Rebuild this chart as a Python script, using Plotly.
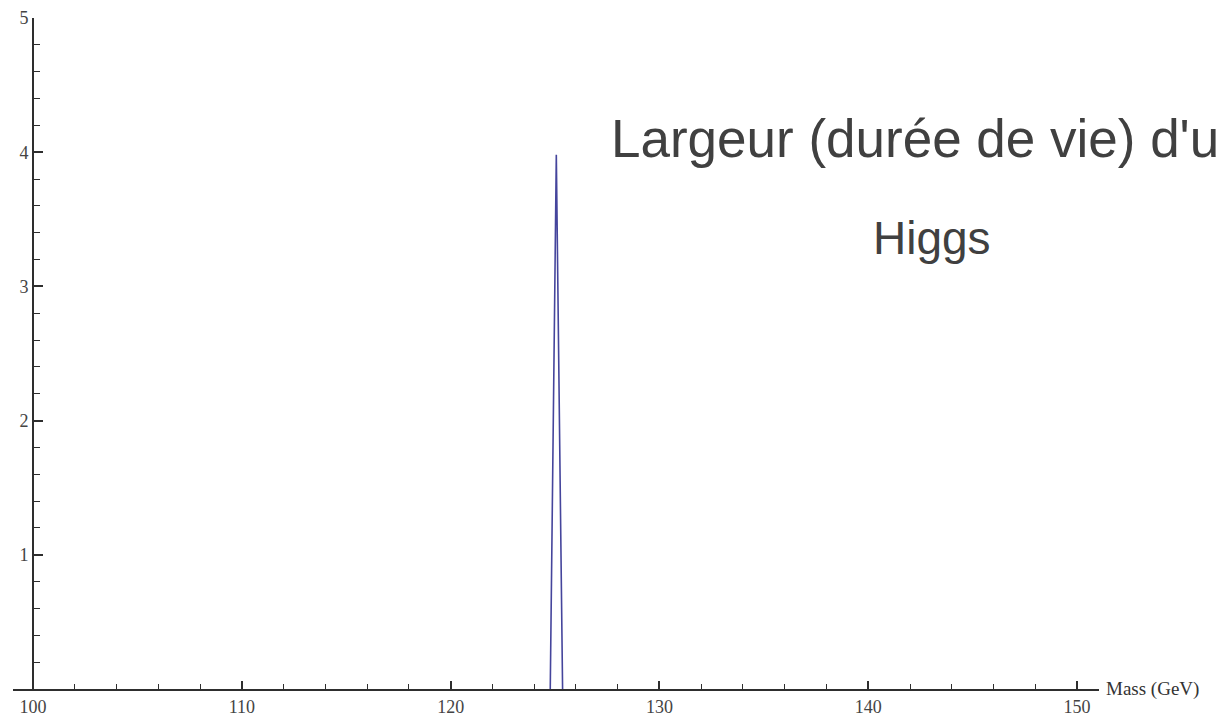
import plotly.graph_objects as go

# Data (the curve is flat on the axis outside the peak)
mass = [124.77, 125.06, 125.36]
width = [0.0, 3.98, 0.0]

x_ticks = [100, 110, 120, 130, 140, 150]
y_ticks = [1, 2, 3, 4, 5]

title_line1 = "Largeur (durée de vie) d'u"
title_line2 = "Higgs"
x_label = "Mass (GeV)"

axis_color = "#2e2e2e"
tick_font = dict(family="Liberation Serif, Times New Roman, serif", size=18, color="#444444")
xlab_font = dict(family="Liberation Serif, Times New Roman, serif", size=19, color="#333333")

fig = go.Figure()
fig.add_trace(go.Scatter(
    x=mass, y=width, mode="lines",
    line=dict(color="#45459c", width=1.6),
    hoverinfo="skip", showlegend=False,
))

W, H = 1219, 721
ml, mr, mt, mb = 13, 120, 18, 32
plot_w = W - ml - mr
plot_h = H - mt - mb
x0, x1 = 99.04, 151.05
ypos = (100 - x0) / (x1 - x0)

fig.update_layout(
    template="none",
    width=W, height=H,
    margin=dict(l=ml, r=mr, t=mt, b=mb, pad=0, autoexpand=False),
    paper_bgcolor="white", plot_bgcolor="white",
    xaxis=dict(
        range=[x0, x1], showgrid=False, zeroline=False, automargin=False,
        showline=True, linecolor=axis_color, linewidth=2, layer="above traces",
        tickmode="array", tickvals=x_ticks, ticktext=[str(v) for v in x_ticks],
        ticks="inside", ticklen=8, tickwidth=1.5, tickcolor=axis_color,
        tickfont=tick_font,
        minor=dict(dtick=2, tick0=100, ticks="inside", ticklen=5, tickwidth=1.2, tickcolor=axis_color),
    ),
    yaxis=dict(
        range=[0, 5], showgrid=False, zeroline=False, automargin=False,
        anchor="free", position=ypos,
        showline=True, linecolor=axis_color, linewidth=1.8, layer="above traces",
        tickmode="array", tickvals=y_ticks, ticktext=[str(v) for v in y_ticks],
        ticks="inside", ticklen=9, tickwidth=1.5, tickcolor=axis_color,
        tickfont=tick_font,
        minor=dict(dtick=0.2, tick0=0, ticks="inside", ticklen=6, tickwidth=1.2, tickcolor=axis_color),
    ),
    annotations=[
        dict(text=x_label, xref="paper", yref="y", x=1, y=0, xanchor="left", yanchor="middle",
             xshift=5, showarrow=False, font=xlab_font),
        dict(text=title_line1, xref="paper", yref="paper", x=(609 - ml) / plot_w, y=(H - mb - 170) / plot_h,
             xanchor="left", yanchor="bottom", showarrow=False,
             font=dict(family="Liberation Sans, Arial, sans-serif", size=53, color="#404040")),
        dict(text=title_line2, xref="paper", yref="paper", x=(871 - ml) / plot_w, y=(H - mb - 266) / plot_h,
             xanchor="left", yanchor="bottom", showarrow=False,
             font=dict(family="Liberation Sans, Arial, sans-serif", size=46, color="#404040")),
    ],
)

fig.write_html("out.html", config={"displayModeBar": False},
               post_script="document.body.style.margin='0';document.body.style.overflow='hidden';")
